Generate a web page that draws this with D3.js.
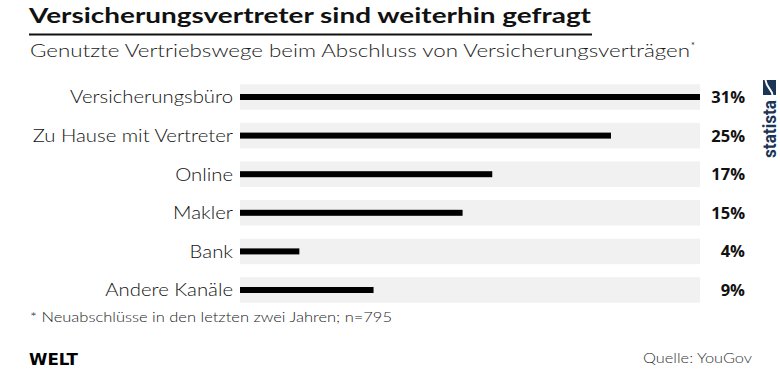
<!DOCTYPE html>
<html>
<head>
<meta charset="utf-8">
<script src="https://cdn.jsdelivr.net/npm/d3@7"></script>
<style>
  html, body { margin: 0; padding: 0; background: #fff; }
  svg { display: block; }
</style>
</head>
<body>
<div id="chart"></div>
<script>
// Daten
const categories = ['Versicherungsbüro', 'Zu Hause mit Vertreter', 'Online', 'Makler', 'Bank', 'Andere Kanäle'];
const values = [31, 25, 17, 15, 4, 9];
const valueLabels = ['31%', '25%', '17%', '15%', '4%', '9%'];

const titleText = 'Versicherungsvertreter sind weiterhin gefragt';
const subtitleText = 'Genutzte Vertriebswege beim Abschluss von Versicherungsverträgen';
const noteText = '* Neuabschlüsse in den letzten zwei Jahren; n=795';
const sourceText = 'Quelle: YouGov';

const width = 780, height = 373;
const fontMain = 'Lato, "Noto Sans", sans-serif';
const fontNum = '"Open Sans", "Noto Sans", sans-serif';

const svg = d3.select('#chart').append('svg')
    .attr('width', width)
    .attr('height', height)
    .attr('xmlns', 'http://www.w3.org/2000/svg');

// Breite des Textes strecken (die Vorlage nutzt eine breitere Schrift)
function stretchTo(sel, target) {
    sel.attr('textLength', target).attr('lengthAdjust', 'spacingAndGlyphs');
}
function stretchBy(sel, k) {
    sel.each(function () {
        const w = this.getComputedTextLength();
        d3.select(this).attr('textLength', (w * k).toFixed(1)).attr('lengthAdjust', 'spacingAndGlyphs');
    });
}

// Titel
const title = svg.append('text')
    .attr('x', 29)
    .attr('y', 23)
    .attr('font-family', fontMain)
    .attr('font-weight', 700)
    .attr('font-size', 21.5)
    .attr('fill', '#111')
    .text(titleText);
stretchTo(title, 562);

svg.append('rect')
    .attr('x', 29)
    .attr('y', 33.5)
    .attr('width', 563)
    .attr('height', 2)
    .attr('fill', '#111');

const sub = svg.append('text')
    .attr('x', 30)
    .attr('y', 57)
    .attr('font-family', fontMain)
    .attr('font-weight', 300)
    .attr('font-size', 17)
    .attr('fill', '#1a1a1a')
    .text(subtitleText);
stretchTo(sub, 660);
svg.append('text')
    .attr('x', 691)
    .attr('y', 49)
    .attr('font-family', fontMain)
    .attr('font-size', 9)
    .attr('fill', '#222')
    .text('*');

// Skalen
const x = d3.scaleLinear()
    .domain([0, d3.max(values)])
    .range([240, 700]);

const y = d3.scalePoint()
    .domain(categories)
    .range([77.7, 309.3])
    .padding(0.5);

const bandH = 25.5;
const barH = 6;

const rows = svg.append('g');

rows.selectAll('rect.bg')
    .data(categories)
    .join('rect')
    .attr('class', 'bg')
    .attr('x', x(0))
    .attr('y', d => y(d) - bandH / 2)
    .attr('width', x.range()[1] - x(0))
    .attr('height', bandH)
    .attr('fill', '#f1f1f1');

rows.selectAll('rect.bar')
    .data(values)
    .join('rect')
    .attr('class', 'bar')
    .attr('x', x(0))
    .attr('y', (d, i) => y(categories[i]) - barH / 2)
    .attr('width', d => x(d) - x(0))
    .attr('height', barH)
    .attr('fill', '#000');

rows.selectAll('text.val')
    .data(valueLabels)
    .join('text')
    .attr('class', 'val')
    .attr('x', 745)
    .attr('y', (d, i) => y(categories[i]))
    .attr('dy', '0.36em')
    .attr('text-anchor', 'end')
    .attr('font-family', fontNum)
    .attr('font-weight', 700)
    .attr('font-size', 16.5)
    .attr('fill', '#111')
    .text(d => d);

// Kategorie-Achse
const gy = svg.append('g')
    .attr('transform', `translate(${x(0)},0)`)
    .call(d3.axisLeft(y).tickSize(0).tickPadding(7));
gy.select('.domain').remove();
const ticks = gy.selectAll('.tick text')
    .attr('font-family', fontMain)
    .attr('font-weight', 300)
    .attr('font-size', 17)
    .attr('fill', '#111')
    .attr('dy', '0.35em');
// Faktor aus der ersten Beschriftung (Breite in der Vorlage: ~163px)
const k = 163 / ticks.node().getComputedTextLength();
stretchBy(ticks, k);

// Fußnote
const note = svg.append('text')
    .attr('x', 30)
    .attr('y', 322)
    .attr('font-family', fontMain)
    .attr('font-weight', 300)
    .attr('font-size', 13.5)
    .attr('fill', '#222')
    .text(noteText);
stretchTo(note, 362);

svg.append('text')
    .attr('x', 29)
    .attr('y', 365)
    .attr('font-family', '"DejaVu Sans", sans-serif')
    .attr('font-weight', 900)
    .attr('font-size', 15)
    .attr('fill', '#000')
    .attr('textLength', 49)
    .attr('lengthAdjust', 'spacingAndGlyphs')
    .text('WELT');

const src = svg.append('text')
    .attr('x', 643)
    .attr('y', 363)
    .attr('font-family', fontMain)
    .attr('font-weight', 300)
    .attr('font-size', 13.5)
    .attr('fill', '#333')
    .text(sourceText);
stretchTo(src, 109);

// statista Logo (vertikal)
const logo = svg.append('g').attr('transform', 'translate(776,158) rotate(-90)');
logo.append('text')
    .attr('x', 0)
    .attr('y', 0)
    .attr('font-family', '"Roboto", "Noto Sans", sans-serif')
    .attr('font-weight', 700)
    .attr('font-size', 18)
    .attr('fill', '#1b3556')
    .attr('textLength', 58)
    .attr('lengthAdjust', 'spacingAndGlyphs')
    .text('statista');
logo.append('rect')
    .attr('x', 63)
    .attr('y', -13)
    .attr('width', 15)
    .attr('height', 13)
    .attr('fill', '#1b3556');
logo.append('path')
    .attr('d', 'M63,-3.5 C68,-3.5 70,-9.5 78,-10.5')
    .attr('fill', 'none')
    .attr('stroke', '#fff')
    .attr('stroke-width', 2);
</script>
</body>
</html>
